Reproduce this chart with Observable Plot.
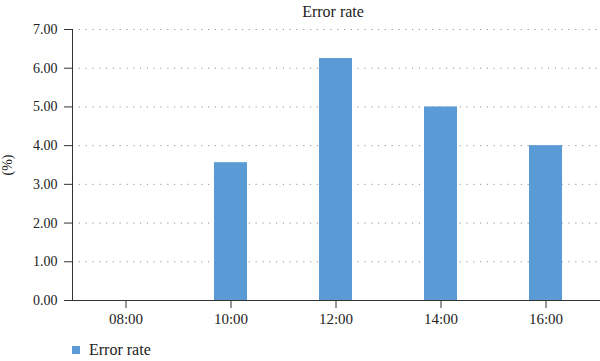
<!DOCTYPE html>
<html>
<head>
<meta charset="utf-8">
<script src="https://cdn.jsdelivr.net/npm/d3@7"></script>
<script src="https://cdn.jsdelivr.net/npm/@observablehq/plot@0.6"></script>
<style>
  body { margin: 0; background: #fff; width: 600px; font-family: "Liberation Serif", "DejaVu Serif", serif; color: #222; }
  #title { height: 22px; line-height: 24px; font-size: 16px; text-align: center; padding-left: 66px; box-sizing: border-box; width: 600px; }
  #chart svg { display: block; }
  #legend { height: 31px; position: relative; font-size: 16px; }
  #legend .sw { position: absolute; left: 72px; top: 16px; width: 8px; height: 8px; background: #5B9BD5; }
  #legend .lb { position: absolute; left: 89px; top: 10px; line-height: 20px; }
</style>
</head>
<body>
<div id="title"></div>
<div id="chart"></div>
<div id="legend"><span class="sw"></span><span class="lb"></span></div>
<script>
const titleText = "Error rate";
const seriesName = "Error rate";
const yLabel = "(%)";
const hours = ["08:00", "10:00", "12:00", "14:00", "16:00"];
const errorRate = [0, 3.56, 6.25, 5.0, 4.0];
const yTicks = [0, 1, 2, 3, 4, 5, 6, 7];

document.getElementById("title").textContent = titleText;
document.querySelector("#legend .lb").textContent = seriesName;

const data = hours.map((h, i) => ({hour: h, value: errorRate[i]}));

const chart = Plot.plot({
  width: 600,
  height: 308,
  marginTop: 7,
  marginBottom: 30,
  marginLeft: 72,
  marginRight: 0,
  style: {fontFamily: "Liberation Serif, DejaVu Serif, serif", fontSize: "14px", color: "#222", background: "#fff"},
  x: {domain: hours, paddingInner: 0.685, paddingOuter: 0.3425, label: null},
  y: {domain: [0, 7], label: null},
  marks: [
    Plot.gridY(yTicks, {stroke: "#888", strokeOpacity: 0.9, strokeDasharray: "1.2,5.6"}),
    Plot.barY(data, {x: "hour", y: "value", fill: "#5B9BD5"}),
    Plot.frame({anchor: "left", stroke: "#333"}),
    Plot.ruleY([0], {stroke: "#333"}),
    Plot.axisY({ticks: yTicks, tickFormat: d3.format(".2f"), tickSize: 8, tickPadding: 7, fontSize: 14, stroke: "#333",
      label: yLabel, labelAnchor: "center", labelArrow: "none", labelOffset: 70}),
    Plot.axisX({tickSize: 8, tickPadding: 5, fontSize: 15, stroke: "#333", label: null})
  ]
});
document.getElementById("chart").appendChild(chart);
</script>
</body>
</html>
